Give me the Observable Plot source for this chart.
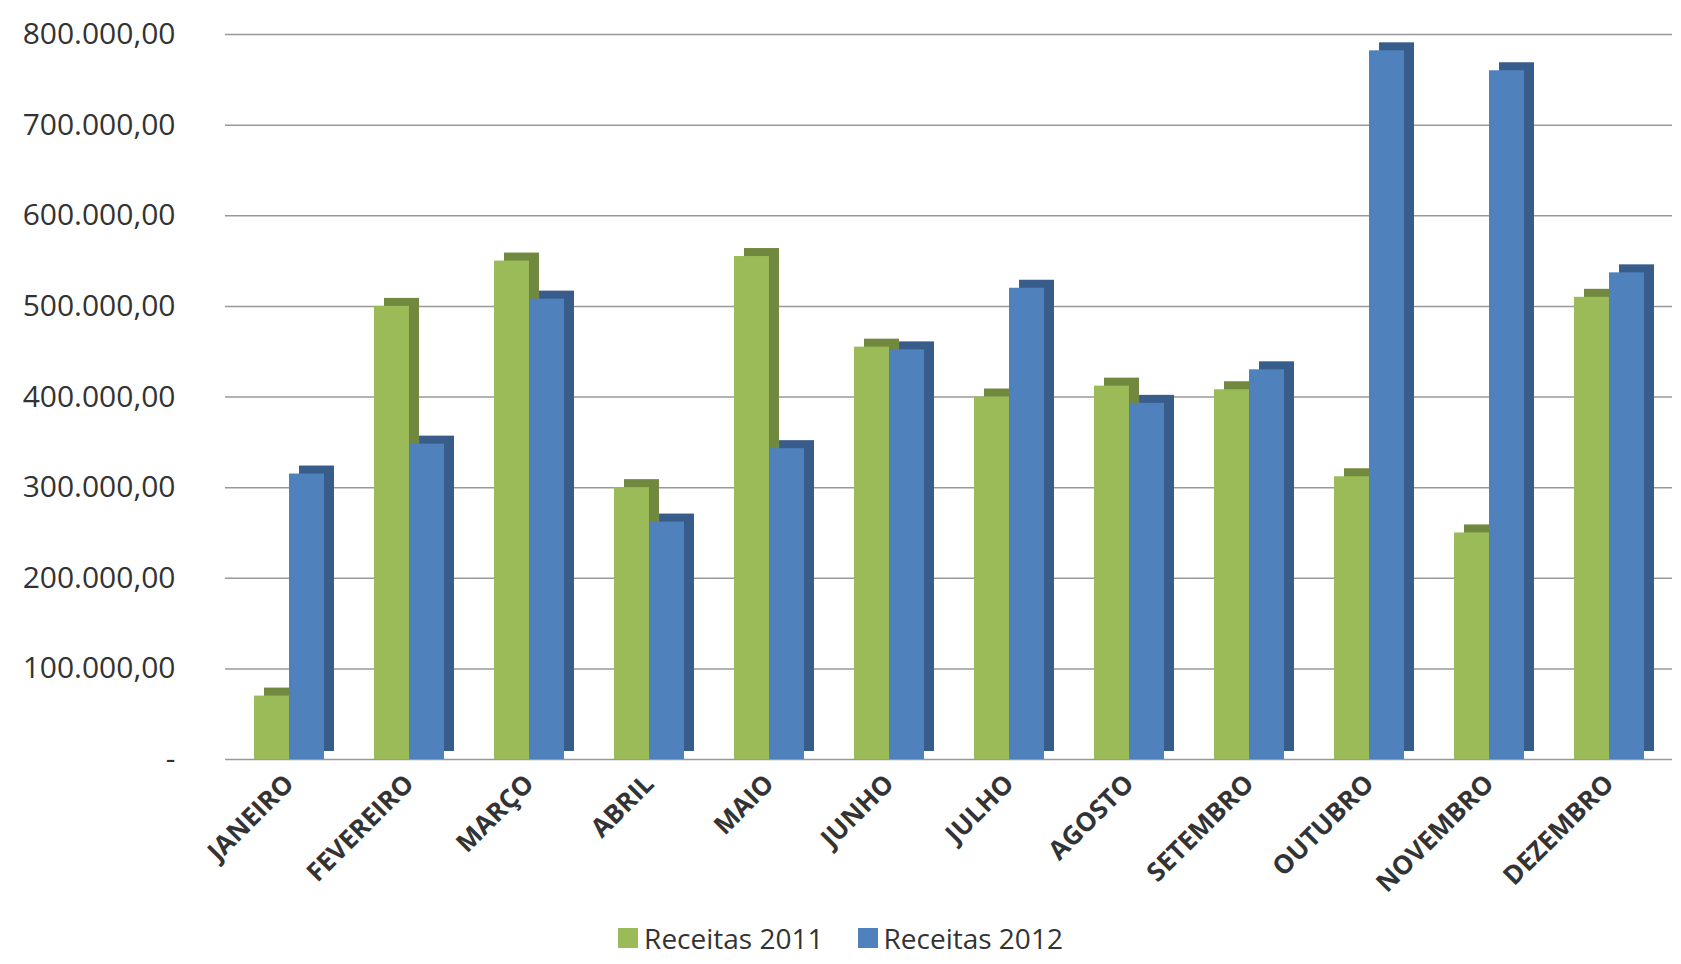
<!DOCTYPE html>
<html><head><meta charset="utf-8">
<script src="https://cdn.jsdelivr.net/npm/d3@7"></script>
<script src="https://cdn.jsdelivr.net/npm/@observablehq/plot@0.6"></script>
<style>
body{margin:0;background:#fff;font-family:"Open Sans",sans-serif;}
#legend{display:flex;justify-content:center;gap:34px;font-size:28px;color:#333;margin-left:0px;margin-top:-6px}
#legend span{display:inline-flex;align-items:center;gap:6px}
#legend i{display:inline-block;width:20px;height:20px}
</style></head><body>
<div id="chart"></div>
<div id="legend"></div>
<script>
const months = ["JANEIRO","FEVEREIRO","MARÇO","ABRIL","MAIO","JUNHO","JULHO","AGOSTO","SETEMBRO","OUTUBRO","NOVEMBRO","DEZEMBRO"];
const series = ["Receitas 2011","Receitas 2012"];
const values2011 = [70000,500000,550000,300000,555000,455000,400000,412000,408000,312000,250000,510000];
const values2012 = [315000,348000,508000,262000,343000,452000,520000,393000,430000,782000,760000,537000];
const yTicks = [0,100000,200000,300000,400000,500000,600000,700000,800000];
const colors = ["#9BBB59","#4F81BD"];
const sideColors = ["#71893F","#385D8A"];

const d11 = months.map((m,i)=>({month:m, value:values2011[i]}));
const d12 = months.map((m,i)=>({month:m, value:values2012[i]}));
const fmt = v => v===0 ? "-" : new Intl.NumberFormat("pt-BR",{minimumFractionDigits:2,maximumFractionDigits:2}).format(v);

const W=1681, ML=225, MR=9, PI=0.42, PO=0.2;
const step=(W-ML-MR)/(months.length-PI+2*PO), half=step*(1-PI)/2;

const bars = (d,i) => [
  Plot.barY(d,{x:"month",y:"value",fill:sideColors[i],dx:10,dy:-8,
    insetLeft: i===0?0:half, insetRight: i===0?half:0}),
  Plot.barY(d,{x:"month",y:"value",fill:colors[i],
    insetLeft: i===0?0:half, insetRight: i===0?half:0})
];

const chart = Plot.plot({
  width:W, height:925,
  marginLeft:ML, marginTop:34, marginBottom:166, marginRight:MR,
  style:{fontFamily:"Open Sans, sans-serif", fontSize:"30px", color:"#333"},
  x:{domain:months, paddingInner:PI, paddingOuter:PO, label:null, axis:null},
  y:{domain:[0,800000], ticks:yTicks, tickFormat:fmt, label:null, tickSize:0, tickPadding:50},
  marks:[
    Plot.ruleY(yTicks,{stroke:"#999",strokeWidth:1.5}),
    ...bars(d11,0), ...bars(d12,1),
    Plot.axisX({anchor:"bottom", tickRotate:-45, tickSize:0, fontWeight:"bold", fontSize:26, textAnchor:"end", tickPadding:20, label:null})
  ]
});
document.getElementById("chart").appendChild(chart);
const lg = document.getElementById("legend");
series.forEach((s,i)=>{lg.innerHTML += `<span><i style="background:${colors[i]}"></i>${s}</span>`;});
</script>
</body></html>
